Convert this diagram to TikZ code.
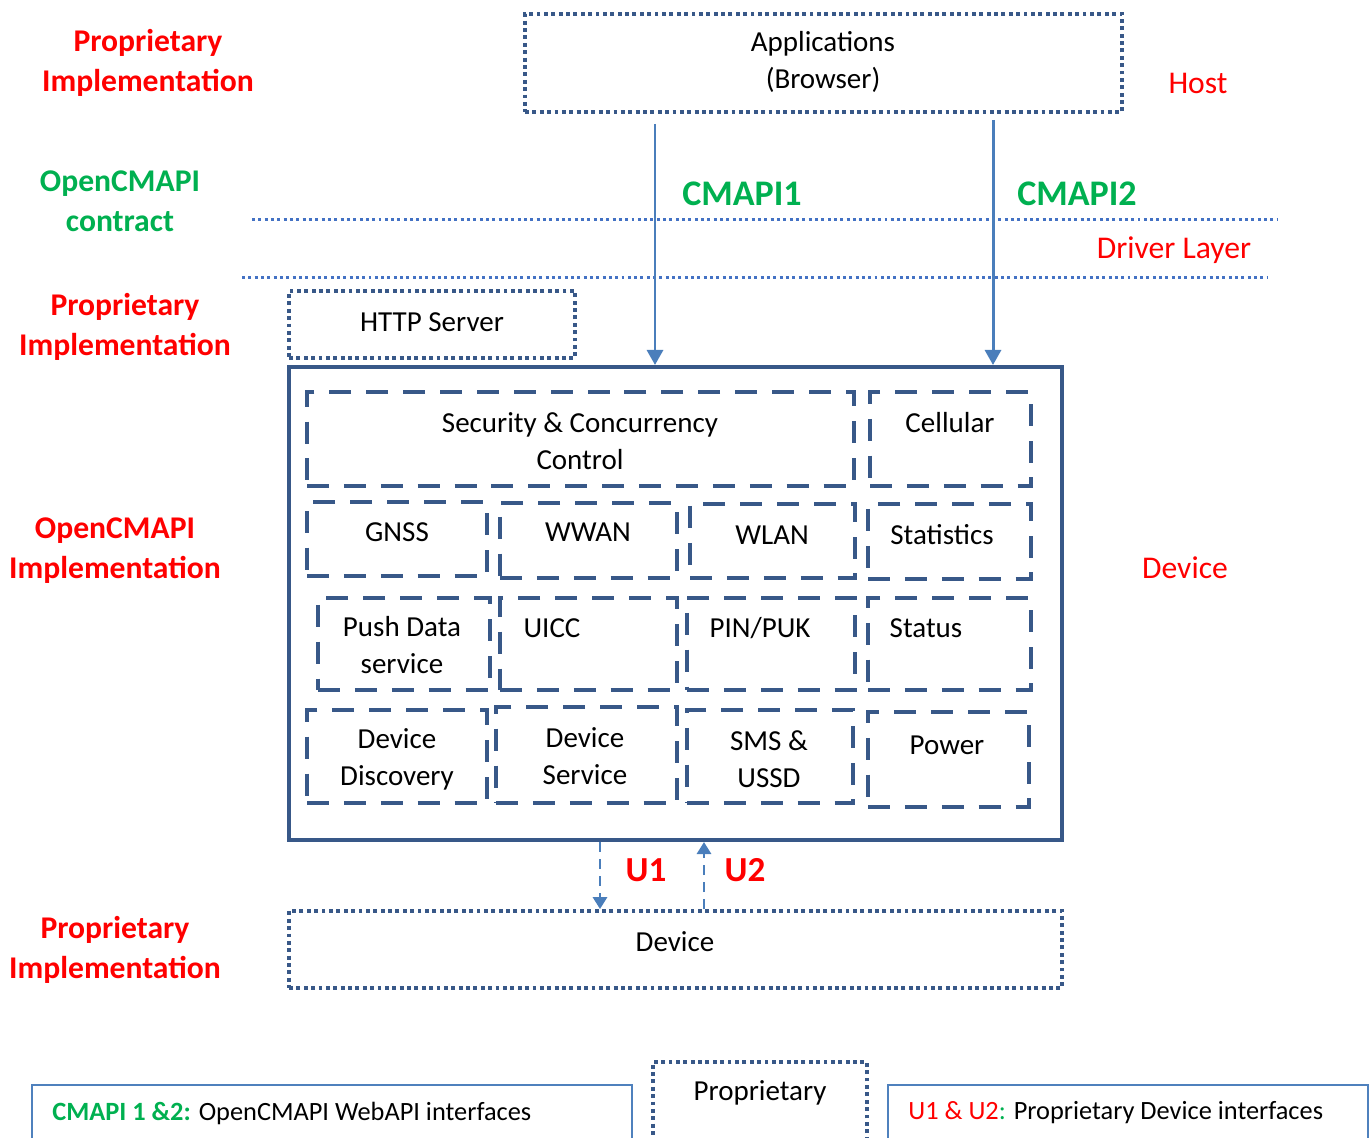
\documentclass[tikz,border=0pt]{standalone}
\usepackage{fontspec}
\setmainfont{Carlito}
\usetikzlibrary{positioning,fit,arrows.meta}
\definecolor{boxblue}{RGB}{56,88,136}
\definecolor{arrowblue}{RGB}{74,126,187}
\definecolor{layerblue}{RGB}{68,114,196}
\definecolor{legendblue}{RGB}{79,129,189}
\definecolor{labelred}{RGB}{255,0,0}
\definecolor{labelgreen}{RGB}{0,176,80}

\tikzset{
  txt/.style={font=\fontsize{16.5}{21}\selectfont, align=center},
  sidelbl/.style={font=\fontsize{18}{22.8}\selectfont\bfseries, text=labelred, align=center},
  contractlbl/.style={sidelbl, text=labelgreen},
  apilbl/.style={font=\fontsize{20.5}{24}\selectfont\bfseries, text=labelgreen},
  ulbl/.style={font=\fontsize{20}{24}\selectfont\bfseries, text=labelred},
  layerlbl/.style={font=\fontsize{18}{22}\selectfont, text=labelred},
  dotbox/.style={draw=boxblue, line width=2.2pt, dash pattern=on 2.2pt off 2pt, inner sep=0pt},
  corebox/.style={draw=boxblue, line width=2.3pt, inner sep=0pt},
  dashbox/.style={draw=boxblue, line width=2.8pt, dash pattern=on 12.5pt off 8.5pt, inner sep=0pt},
  layerline/.style={draw=layerblue, line width=1.7pt, dash pattern=on 1.7pt off 1.9pt},
  api/.style={draw=arrowblue, line width=1.7pt, -{Triangle[width=0.32cm,length=0.3cm]}},
  uarrow/.style={draw=arrowblue, line width=1.7pt, dash pattern=on 0.2cm off 0.14cm, -{Triangle[width=0.28cm,length=0.24cm]}},
  legendbox/.style={draw=legendblue, line width=1.2pt, inner sep=0pt},
  legendtxt/.style={font=\fontsize{15}{19}\selectfont, anchor=west, inner sep=0pt}
}

\begin{document}
\begin{tikzpicture}[x=0.02cm, y=-0.02cm]
		\useasboundingbox (0,0) rectangle (1370,1137);
		\clip (0,0) rectangle (1370,1137);
		
		% host side
		\node[dotbox, fit={(525,14) (1122,112)}] (app) {};
		\node[txt] (appt) at (823,62) {Applications\\(Browser)};
		\node[layerlbl] (host) at (1198,83) {Host};
		
		% layer boundaries
		\draw[layerline] (252,219) -- (1278,219);
		\draw[layerline] (242,277) -- (1268,277);
		\node[layerlbl] (driver) at (1174,250) {Driver Layer};
		
		% left column
		\node[sidelbl] (prop1) at (148,63) {Proprietary\\Implementation};
		\node[contractlbl] (contract) at (120,201) {OpenCMAPI\\contract};
		\node[sidelbl] (prop2) at (125,327) {Proprietary\\Implementation};
		\node[sidelbl] (impl) at (115,551) {OpenCMAPI\\Implementation};
		\node[sidelbl] (prop3) at (115,950) {Proprietary\\Implementation};
		
		\node[dotbox, fit={(289,291) (575,358)}] (http) {};
		\node[txt] (httpt) at (432,322) {HTTP Server};
		
		% device side
		\node[corebox, fit={(289,367) (1062,840)}] (core) {};
		\node[layerlbl] (devlbl) at (1185,568) {Device};
		
		\node[dashbox, fit={(307,392) (854,486)}] (sec) {};
		\node[txt] (sect) at (580,441) {Security \& Concurrency\\Control};
		\node[dashbox, fit={(870,392) (1031,486)}] (cell) {};
		\node[txt] (cellt) at (950,423) {Cellular};
		
		\node[dashbox, fit={(307,502) (487,576)}] (gnss) {};
		\node[txt] (gnsst) at (397,532) {GNSS};
		\node[dashbox, fit={(500,503) (677,578)}] (wwan) {};
		\node[txt] (wwant) at (588,532) {WWAN};
		\node[dashbox, fit={(690,504) (855,578)}] (wlan) {};
		\node[txt] (wlant) at (772,535) {WLAN};
		\node[dashbox, fit={(868,504) (1031,579)}] (stats) {};
		\node[txt] (statst) at (942,535) {Statistics};
		
		\node[dashbox, fit={(318,598) (490,690)}] (push) {};
		\node[txt] (pusht) at (402,645) {Push Data\\service};
		\node[dashbox, fit={(500,598) (677,690)}] (uicc) {};
		\node[txt] (uicct) at (552,628) {UICC};
		\node[dashbox, fit={(687,598) (855,690)}] (pin) {};
		\node[txt] (pint) at (760,628) {PIN/PUK};
		\node[dashbox, fit={(868,598) (1031,690)}] (status) {};
		\node[txt] (statust) at (926,628) {Status};
		
		\node[dashbox, fit={(307,710) (487,803)}] (disc) {};
		\node[txt] (disct) at (397,759) {Device\\Discovery};
		\node[dashbox, fit={(496,707) (677,803)}] (dserv) {};
		\node[txt] (dservt) at (585,756) {Device\\Service};
		\node[dashbox, fit={(687,710) (853,803)}] (sms) {};
		\node[txt] (smst) at (769,759) {SMS \&\\USSD};
		\node[dashbox, fit={(868,712) (1029,807)}] (power) {};
		\node[txt] (powert) at (947,745) {Power};
		
		\node[dotbox, fit={(289,911) (1062,988)}] (dev) {};
		\node[txt] (devt) at (675,942) {Device};
		
		% interfaces
		\coordinate (c1) at (655,0);
		\coordinate (c2) at (993,0);
		\draw[api, shorten <=0.2cm] (app.south -| c1) -- (core.north -| c1);
		\draw[api, shorten <=0.12cm] (app.south -| c2) -- (core.north -| c2);
		\node[apilbl] (cm1) at (742,194) {CMAPI1};
		\node[apilbl] (cm2) at (1077,194) {CMAPI2};
		
		\coordinate (u1) at (600,0);
		\coordinate (u2) at (704,0);
		\draw[uarrow] (core.south -| u1) -- (dev.north -| u1);
		\draw[uarrow] (dev.north -| u2) -- (core.south -| u2);
		\node[ulbl] (u1l) at (646,870) {U1};
		\node[ulbl] (u2l) at (745,870) {U2};
		
		% legend
		\node[legendbox, fit={(32,1085) (632,1170)}] (leg1) {};
		\node[legendtxt] (leg1t) at (52,1113) {{\color{labelgreen}\bfseries CMAPI 1 \&2:} OpenCMAPI WebAPI interfaces};
		\node[dotbox, fit={(653,1062) (867,1170)}] (leg2) {};
		\node[txt] (leg2t) at (760,1093) {Proprietary};
		\node[legendbox, fit={(888,1085) (1368,1170)}] (leg3) {};
		\node[legendtxt] (leg3t) at (908,1113) {{\color{labelred}U1 \& U2}{\color{labelgreen}:} Proprietary Device interfaces};
		
\end{tikzpicture}
\end{document}
